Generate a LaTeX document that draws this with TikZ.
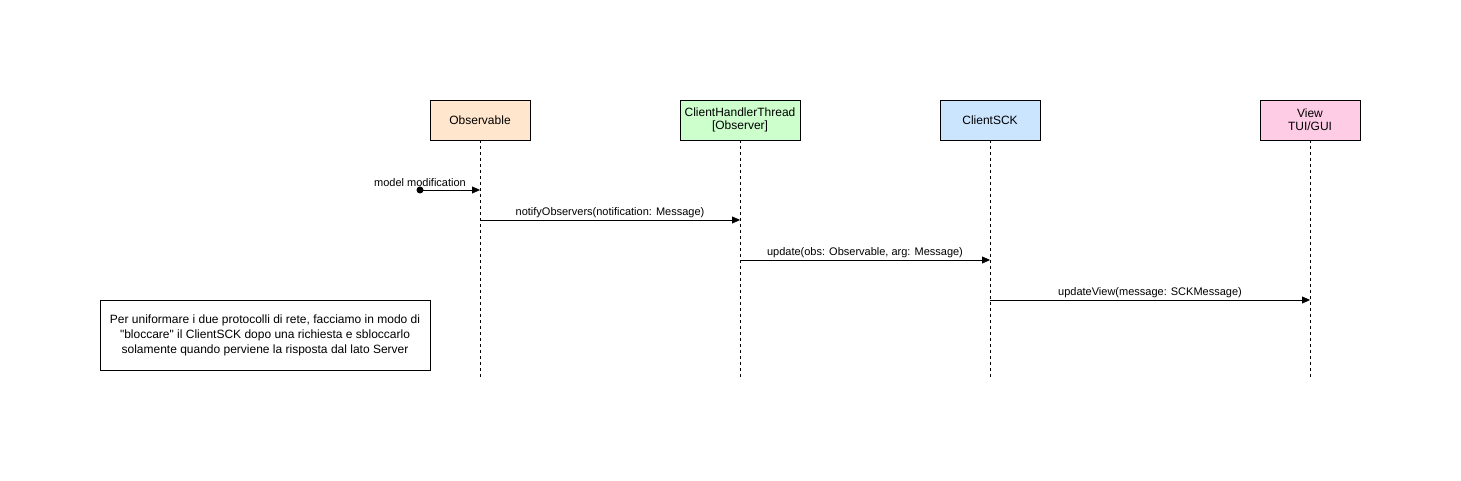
\documentclass[tikz,border=0pt]{standalone}
\usepackage{fontspec}
\setmainfont{Liberation Sans}
\usepackage{tikz}
\usetikzlibrary{arrows.meta,positioning}
\definecolor{obsfill}{HTML}{FFE6CC}
\definecolor{handlerfill}{HTML}{CCFFCC}
\definecolor{sckfill}{HTML}{CCE5FF}
\definecolor{viewfill}{HTML}{FFCCE6}
\begin{document}
\begin{tikzpicture}[x=1pt,y=-1pt,
    actor/.style={draw,minimum width=100pt,minimum height=40pt,inner sep=1pt,align=center,font=\fontsize{12}{14}\selectfont},
    lifeline/.style={densely dashed,dash pattern=on 3pt off 3pt},
    msg/.style={-{Triangle[length=8pt,width=7pt]},thin},
    lbl/.style={above,inner sep=2pt,font=\fontsize{11}{13}\selectfont}]
    \useasboundingbox (0,0) rectangle (1461,481);

    % Partecipanti
    \node[actor,fill=obsfill] (obs) at (480,120) {Observable};
    \node[actor,fill=handlerfill,minimum width=120pt] (handler) at (740,120) {ClientHandlerThread\\[-1pt][Observer]};
    \node[actor,fill=sckfill] (sck) at (990,120) {ClientSCK};
    \node[actor,fill=viewfill] (view) at (1310,120) {View\\[-1pt]TUI/GUI};

    % Linee di vita
    \foreach \p in {obs,handler,sck,view}
        \draw[lifeline] (\p.south) -- ++(0,238);

    % Livelli dei messaggi
    \coordinate (start) at (420,190);
    \coordinate (lv1) at (0,220);
    \coordinate (lv2) at (0,260);
    \coordinate (lv3) at (0,300);

    % Messaggio trovato
    \fill (start) circle (3.5pt);
    \draw[msg] (start) -- node[lbl,pos=0,inner sep=3pt]{model modification} (obs |- start);

    % Messaggi
    \draw[msg] (obs |- lv1) -- node[lbl]{notifyObservers(notification: Message)} (handler |- lv1);
    \draw[msg] (handler |- lv2) -- node[lbl]{update(obs: Observable, arg: Message)} (sck |- lv2);
    \draw[msg] (sck |- lv3) -- node[lbl]{updateView(message: SCKMessage)} (view |- lv3);

    % Nota
    \node[draw,minimum width=330pt,minimum height=70pt,align=center,font=\fontsize{12}{15}\selectfont] (note) at (265,335)
        {Per uniformare i due protocolli di rete, facciamo in modo di\\\textquotedbl bloccare\textquotedbl{} il ClientSCK dopo una richiesta e sbloccarlo\\solamente quando perviene la risposta dal lato Server};

\end{tikzpicture}
\end{document}
